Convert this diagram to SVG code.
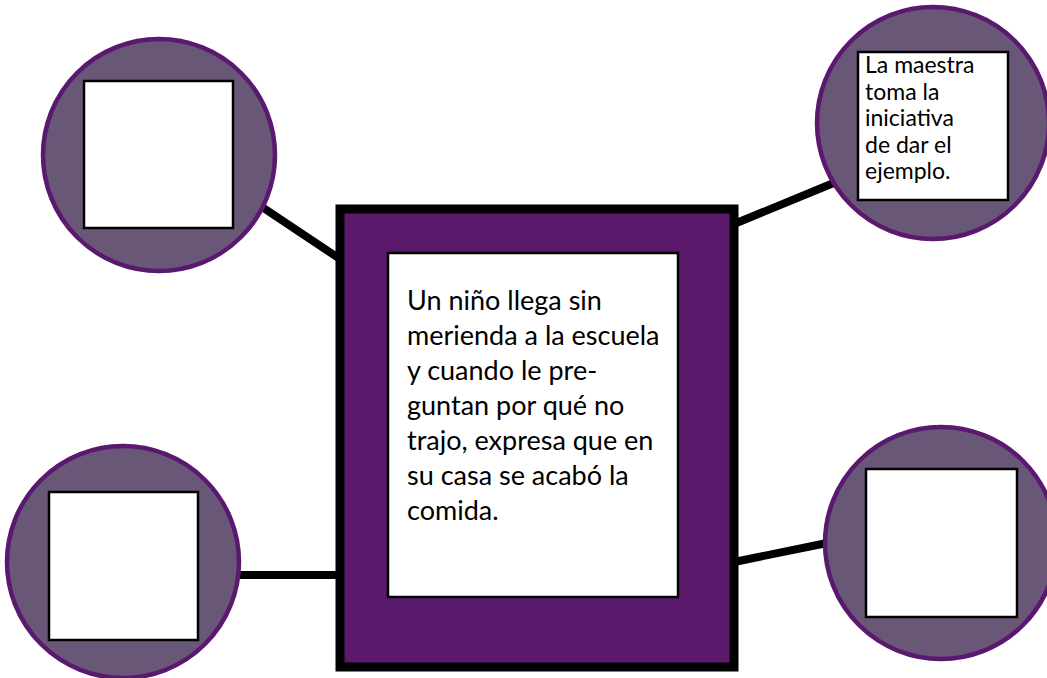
<svg xmlns="http://www.w3.org/2000/svg" width="1047" height="678" viewBox="0 0 1047 678">
<style>
.circ{fill:#695777;stroke:#5a196e;stroke-width:4.5}
.box{fill:#ffffff;stroke:#000000;stroke-width:2.5}
.conn{stroke:#000000;stroke-width:8;fill:none}
.t{font-family:Lato,"Open Sans","DejaVu Sans",sans-serif;fill:#000000}
.main{font-size:27px}
.small{font-size:23px}
</style>
<rect width="1047" height="678" fill="#ffffff"/>
<g id="connectors">
<line class="conn" x1="262" y1="207" x2="340" y2="259"/>
<line class="conn" x1="238" y1="575" x2="340" y2="575"/>
<line class="conn" x1="734" y1="224" x2="836" y2="182"/>
<line class="conn" x1="734" y1="562" x2="827" y2="543"/>
</g>
<g id="node-top-left">
<circle class="circ" cx="159" cy="155" r="116"/>
<rect class="box" x="84" y="81" width="149" height="147"/>
</g>
<g id="node-bottom-left">
<circle class="circ" cx="123" cy="562" r="116"/>
<rect class="box" x="49" y="492" width="149" height="148"/>
</g>
<g id="node-top-right">
<circle class="circ" cx="933" cy="123" r="116"/>
<rect class="box" x="858" y="52" width="150" height="148"/>
<text class="t small">
<tspan x="865" y="73">La maestra</tspan>
<tspan x="865" y="100">toma la</tspan>
<tspan x="865" y="126">iniciativa</tspan>
<tspan x="865" y="153">de dar el</tspan>
<tspan x="865" y="179">ejemplo.</tspan>
</text>
</g>
<g id="node-bottom-right">
<circle class="circ" cx="941" cy="543" r="116"/>
<rect class="box" x="866" y="469" width="151" height="148"/>
</g>
<g id="node-center">
<rect x="340" y="209" width="394" height="458" fill="#5a196b" stroke="#000000" stroke-width="9"/>
<rect class="box" x="388" y="253" width="290" height="344"/>
<text class="t main">
<tspan x="407" y="310">Un niño llega sin</tspan>
<tspan x="407" y="345">merienda a la escuela</tspan>
<tspan x="407" y="380">y cuando le pre-</tspan>
<tspan x="407" y="415">guntan por qué no</tspan>
<tspan x="407" y="450">trajo, expresa que en</tspan>
<tspan x="407" y="485">su casa se acabó la</tspan>
<tspan x="407" y="520">comida.</tspan>
</text>
</g>
</svg>
